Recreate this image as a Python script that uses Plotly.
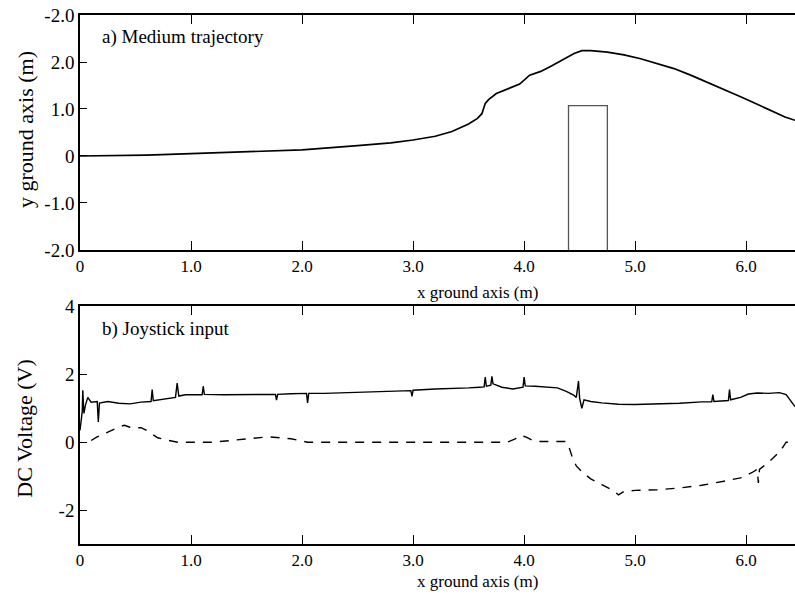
import plotly.graph_objects as go
from plotly.subplots import make_subplots

# ---- data ----
traj_x = [0, 0.3, 0.6, 1.0, 1.5, 2.0, 2.5, 2.8, 3.0, 3.2, 3.35, 3.5, 3.58, 3.62, 3.65, 3.68,
          3.75, 3.85, 3.96, 4.05, 4.15, 4.25, 4.35, 4.45, 4.52, 4.6, 4.75, 4.9, 5.05, 5.2,
          5.35, 5.5, 5.65, 5.8, 5.95, 6.1, 6.25, 6.35, 6.44]
traj_y = [0, 0.005, 0.02, 0.05, 0.09, 0.13, 0.22, 0.28, 0.34, 0.42, 0.52, 0.68, 0.8, 0.9, 1.12, 1.2,
          1.33, 1.43, 1.53, 1.72, 1.8, 1.92, 2.05, 2.18, 2.24, 2.24, 2.21, 2.15, 2.07, 1.97,
          1.86, 1.72, 1.57, 1.42, 1.26, 1.1, 0.93, 0.83, 0.76]

obstacle_x = [4.40, 4.40, 4.75, 4.75]
obstacle_y = [-2.0, 1.07, 1.07, -2.0]

joy1_x = [0, 0.02, 0.025, 0.035, 0.05, 0.07, 0.1, 0.155, 0.165, 0.175, 0.25, 0.35, 0.45, 0.55,
          0.64, 0.65, 0.66, 0.75, 0.86, 0.875, 0.89, 0.95, 1.1, 1.11, 1.12, 1.3, 1.5, 1.7,
          1.76, 1.77, 1.78, 1.9, 2.04, 2.05, 2.06, 2.2, 2.4, 2.6, 2.8, 2.98, 2.99, 3.0, 3.2,
          3.4, 3.5, 3.6, 3.64, 3.65, 3.66, 3.7, 3.71, 3.72, 3.8, 3.9, 3.99, 4.0, 4.01, 4.1,
          4.2, 4.3, 4.38, 4.45, 4.47, 4.49, 4.5, 4.52, 4.54, 4.6, 4.7, 4.85, 5.0, 5.2, 5.4,
          5.6, 5.69, 5.7, 5.71, 5.84, 5.85, 5.86, 5.95, 6.02, 6.1, 6.2, 6.3, 6.36, 6.4, 6.44]
joy1_y = [0.35, 0.9, 1.53, 0.85, 1.1, 1.32, 1.18, 1.2, 0.6, 1.15, 1.2, 1.15, 1.13, 1.18,
          1.2, 1.55, 1.22, 1.26, 1.32, 1.74, 1.36, 1.4, 1.4, 1.65, 1.41, 1.40, 1.40, 1.41,
          1.41, 1.24, 1.41, 1.43, 1.44, 1.16, 1.44, 1.44, 1.46, 1.50, 1.51, 1.52, 1.35, 1.53, 1.57,
          1.58, 1.60, 1.62, 1.63, 1.92, 1.65, 1.68, 1.94, 1.72, 1.62, 1.57, 1.62, 1.92, 1.66, 1.65,
          1.63, 1.6, 1.5, 1.38, 1.32, 1.8, 1.3, 1.0, 1.25, 1.2, 1.16, 1.12, 1.11, 1.12, 1.15,
          1.19, 1.19, 1.4, 1.20, 1.23, 1.55, 1.25, 1.32, 1.42, 1.45, 1.44, 1.46, 1.4, 1.22, 1.05]

joy2_x = [0.1, 0.15, 0.2, 0.25, 0.3, 0.35, 0.4, 0.45, 0.5, 0.55, 0.6, 0.65, 0.7, 0.8, 0.88,
          1.2, 1.3, 1.4, 1.5, 1.6, 1.7, 1.8, 1.9, 1.98, 2.05, 3.85, 3.92, 3.97, 4.02, 4.08,
          4.15, 4.38, 4.4, 4.43, 4.47, 4.53, 4.6, 4.7, 4.8, 4.85, 4.9, 5.0, 5.2, 5.4, 5.6,
          5.8, 5.95, 6.05, 6.1, 6.11, 6.12, 6.2, 6.28, 6.33, 6.36, 6.44]
joy2_y = [0.05, 0.15, 0.22, 0.3, 0.36, 0.45, 0.5, 0.44, 0.42, 0.43, 0.35, 0.25, 0.13, 0.05, 0.0,
          0.0, 0.03, 0.07, 0.1, 0.12, 0.16, 0.13, 0.1, 0.05, 0.0, 0.0, 0.1, 0.2, 0.15, 0.05,
          0.02, 0.02, -0.1, -0.4, -0.7, -0.9, -1.08, -1.25, -1.42, -1.55, -1.45, -1.42, -1.4, -1.35, -1.27,
          -1.15, -1.05, -0.9, -0.8, -1.2, -0.8, -0.6, -0.35, -0.15, 0.0, 0.0]

x_tickvals = [0, 1, 2, 3, 4, 5, 6]
x_ticktext = ["0", "1.0", "2.0", "3.0", "4.0", "5.0", "6.0"]
ya_tickvals = [-2, -1, 0, 1, 2, 3]
ya_ticktext = ["-2.0", "-1.0", "0", "1.0", "2.0", "-2.0"]
yb_tickvals = [-2, 0, 2, 4]
yb_ticktext = ["-2", "0", "2", "4"]

FONT = "Liberation Serif"

fig = make_subplots(rows=2, cols=1, vertical_spacing=0.1066)
fig.update_layout(
    yaxis_domain=[0.5558, 1.0],
    yaxis2_domain=[0.0, 0.449],
)

fig.add_trace(go.Scatter(x=traj_x, y=traj_y, mode="lines",
                         line=dict(color="black", width=1.7)), row=1, col=1)
fig.add_trace(go.Scatter(x=obstacle_x, y=obstacle_y, mode="lines",
                         line=dict(color="#555555", width=1.3)), row=1, col=1)
fig.add_trace(go.Scatter(x=joy1_x, y=joy1_y, mode="lines",
                         line=dict(color="black", width=1.4)), row=2, col=1)
fig.add_trace(go.Scatter(x=joy2_x, y=joy2_y, mode="lines",
                         line=dict(color="black", width=1.4, dash="9px,8px")), row=2, col=1)

xcommon = dict(range=[0, 6.44], tickvals=x_tickvals, ticktext=x_ticktext,
               ticks="inside", ticklen=9, tickwidth=1, tickcolor="black",
               showline=True, linecolor="black", linewidth=1.5, mirror="ticks",
               showgrid=False, zeroline=False,
               tickfont=dict(family=FONT, size=17, color="black"))
fig.update_xaxes(**xcommon)
ycommon = dict(ticks="inside", ticklen=7, tickwidth=1, tickcolor="black",
               showline=True, linecolor="black", linewidth=1.5, mirror=False,
               showgrid=False, zeroline=False,
               tickfont=dict(family=FONT, size=19, color="black"))
fig.update_yaxes(**ycommon)
fig.update_yaxes(range=[-2, 3], tickvals=ya_tickvals, ticktext=ya_ticktext, row=1, col=1)
fig.update_yaxes(range=[-3, 4], tickvals=yb_tickvals, ticktext=yb_ticktext, row=2, col=1)

annots = [
    dict(text="a) Medium trajectory", x=0.18, y=2.53, xref="x", yref="y",
         xanchor="left", yanchor="middle", font=dict(size=19)),
    dict(text="b) Joystick input", x=0.18, y=3.35, xref="x2", yref="y2",
         xanchor="left", yanchor="middle", font=dict(size=19)),
    dict(text="x ground axis (m)", x=3.02, y=0.476, xref="x", yref="paper",
         xanchor="left", yanchor="middle", font=dict(size=17)),
    dict(text="x ground axis (m)", x=3.02, y=-0.07, xref="x2", yref="paper",
         xanchor="left", yanchor="middle", font=dict(size=17)),
    dict(text="y ground axis (m)", x=-0.0769, y=0.7826, xref="paper", yref="paper",
         xanchor="center", yanchor="middle", textangle=-90, font=dict(size=22)),
    dict(text="DC Voltage (V)", x=-0.0769, y=0.218, xref="paper", yref="paper",
         xanchor="center", yanchor="middle", textangle=-90, font=dict(size=22)),
]
for a in annots:
    a["showarrow"] = False
    a["font"].update(family=FONT, color="black")
    fig.add_annotation(**a)

fig.update_layout(
    width=795, height=599,
    margin=dict(l=80, r=0, t=15, b=55),
    paper_bgcolor="white", plot_bgcolor="white",
    showlegend=False, hovermode=False,
    font=dict(family=FONT, color="black"),
)

fig.write_html("out.html")
